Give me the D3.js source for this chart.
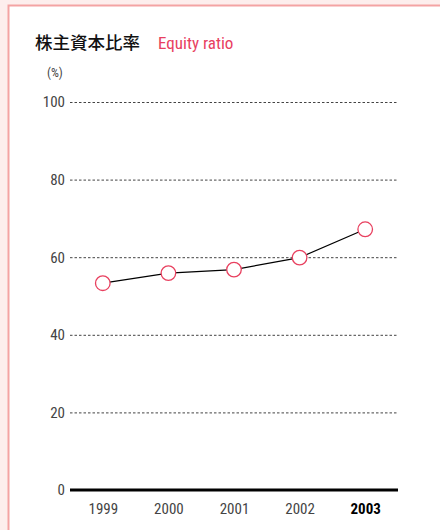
<!DOCTYPE html>
<html>
<head>
<meta charset="utf-8">
<script src="https://cdn.jsdelivr.net/npm/d3@7"></script>
<style>
  html, body { margin: 0; padding: 0; background: #fdeeed; }
  svg { display: block; }
</style>
</head>
<body>
<svg id="plot" width="440" height="530"></svg>
<script>
let years = ["1999", "2000", "2001", "2002", "2003"];
let ratios = [53.3, 55.9, 56.8, 59.9, 67.2];
let yTicks = [0, 20, 40, 60, 80, 100];

let width = 440,
    height = 530;

let margin = {top: 102, right: 42, bottom: 40, left: 70};

let narrow = "'Liberation Sans Narrow', 'Roboto Condensed', 'Liberation Sans', sans-serif";

let svg = d3.select("#plot");

// white panel with pink border on top/left
svg.append("rect")
    .attr("x", 8.5)
    .attr("y", 5.5)
    .attr("width", width)
    .attr("height", height)
    .attr("fill", "white")
    .attr("stroke", "#f4a3a3")
    .attr("stroke-width", 2);

let x = d3.scalePoint()
    .domain(years)
    .range([margin.left, width - margin.right])
    .padding(0.5);

let y = d3.scaleLinear()
    .domain([0, 100])
    .range([height - margin.bottom, margin.top]);

let yAxis = g => g
    .attr("transform", `translate(${margin.left}, 0)`)
    .call(d3.axisLeft(y)
            .tickValues(yTicks)
            .tickFormat(d3.format("d"))
            .tickSize(-(width - margin.right - margin.left))
            .tickPadding(5))
    .call(g => g.select(".domain").remove())
    .call(g => g.selectAll(".tick line")
              .attr("stroke", "#444")
              .attr("stroke-width", 1)
              .attr("stroke-dasharray", "2.5,2")
              .attr("display", d => d === 0 ? "none" : null))
    .call(g => g.selectAll(".tick text")
              .attr("fill", "#444")
              .style("font", `15px ${narrow}`));

let xAxis = g => g
    .attr("transform", `translate(0, ${height - margin.bottom})`)
    .call(d3.axisBottom(x).tickSize(0).tickPadding(13))
    .call(g => g.select(".domain").remove())
    .call(g => g.selectAll(".tick text")
              .attr("fill", d => d === "2003" ? "#000" : "#444")
              .style("font", d => `${d === "2003" ? "bold " : ""}15px ${narrow}`));

svg.append("g").call(yAxis);
svg.append("g").call(xAxis);

// baseline
svg.append("line")
    .attr("x1", margin.left)
    .attr("x2", width - margin.right)
    .attr("y1", y(0))
    .attr("y2", y(0))
    .attr("stroke", "#000")
    .attr("stroke-width", 3);

let line = d3.line()
    .x((d, i) => x(years[i]))
    .y(d => y(d));

svg.append("path")
    .datum(ratios)
    .attr("fill", "none")
    .attr("stroke", "#000")
    .attr("stroke-width", 1.2)
    .attr("d", line);

svg.append("g")
  .selectAll("circle")
  .data(ratios)
  .join("circle")
    .attr("cx", (d, i) => x(years[i]))
    .attr("cy", d => y(d))
    .attr("r", 7.3)
    .attr("fill", "white")
    .attr("stroke", "#e8405f")
    .attr("stroke-width", 1.3);

// titles
svg.append("text")
    .attr("x", 35)
    .attr("y", 49)
    .attr("fill", "#111")
    .style("font", "500 17.5px 'Noto Sans CJK JP', sans-serif")
    .text("株主資本比率");

svg.append("text")
    .attr("x", 158)
    .attr("y", 49)
    .attr("fill", "#e8405f")
    .style("font", `17px ${narrow}`)
    .text("Equity ratio");

svg.append("text")
    .attr("x", 47)
    .attr("y", 77)
    .attr("fill", "#444")
    .style("font", `12.5px ${narrow}`)
    .text("(%)");
</script>
</body>
</html>
